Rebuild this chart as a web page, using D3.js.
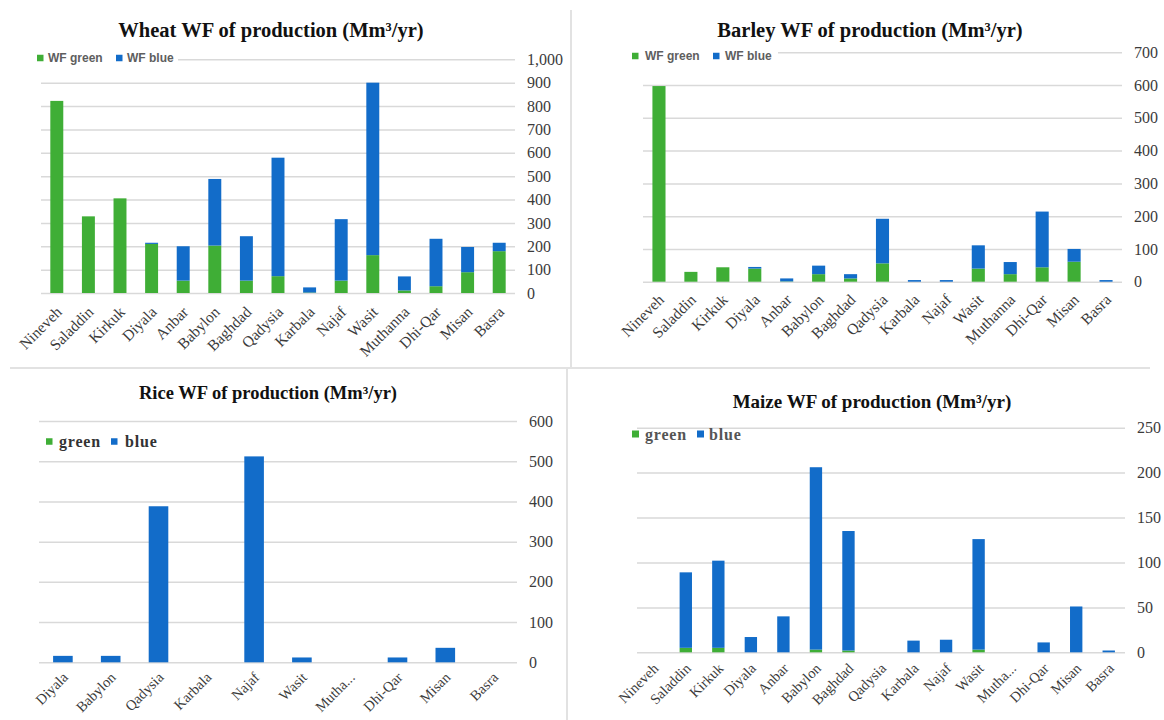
<!DOCTYPE html>
<html>
<head>
<meta charset="utf-8">
<script src="https://cdn.jsdelivr.net/npm/d3@7"></script>
<style>
  body { margin: 0; background: #fff; }
  svg { display: block; }
</style>
</head>
<body>
<svg id="chart" width="1164" height="720"></svg>
<script>
// ---- Data (Mm3/yr) ----
const provinces = ["Nineveh","Saladdin","Kirkuk","Diyala","Anbar","Babylon","Baghdad","Qadysia","Karbala","Najaf","Wasit","Muthanna","Dhi-Qar","Misan","Basra"];
const provincesShort = ["Nineveh","Saladdin","Kirkuk","Diyala","Anbar","Babylon","Baghdad","Qadysia","Karbala","Najaf","Wasit","Mutha...","Dhi-Qar","Misan","Basra"];
const riceProvinces = ["Diyala","Babylon","Qadysia","Karbala","Najaf","Wasit","Mutha...","Dhi-Qar","Misan","Basra"];

const wheatGreen = [822,328,405,210,53,203,53,72,2,53,162,11,29,89,179];
const wheatBlue  = [0,0,0,5,147,285,190,507,22,263,738,60,203,108,36];
const wheatTicks = [0,100,200,300,400,500,600,700,800,900,1000];

const barleyGreen = [597,30,44,40,1,23,10,56,0,0,40,23,44,61,0];
const barleyBlue  = [0,0,0,5,9,26,13,136,5,5,71,37,170,39,5];
const barleyTicks = [0,100,200,300,400,500,600,700];

const riceGreen = [0,0,0,0,0,0,0,0,0,0];
const riceBlue  = [16,16,388,0,512,12,0,12,36,0];
const riceTicks = [0,100,200,300,400,500,600];

const maizeGreen = [0,5,5,0,0,3,2,0,0,0,3,0,0,0,0];
const maizeBlue  = [0,84,97,17,40,203,133,0,13,14,123,0,11,51,2];
const maizeTicks = [0,50,100,150,200,250];

const GREEN = "#3fae36";
const BLUE = "#126cc9";
const GRID = "#d9d9d9";
const TEXT = "#3b3b3b";
const SERIF = "'Liberation Serif','Times New Roman',serif";
const SANS = "'Liberation Sans',Arial,sans-serif";

const svg = d3.select("#chart");

// panel frame lines
const frame = svg.append("g").attr("stroke", "#e2e2e2").attr("stroke-width", 2);
frame.append("line").attr("x1", 571).attr("x2", 571).attr("y1", 10).attr("y2", 368);
frame.append("line").attr("x1", 567).attr("x2", 567).attr("y1", 368).attr("y2", 720);
frame.append("line").attr("x1", 10).attr("x2", 1150).attr("y1", 368).attr("y2", 368);

function drawPanel(cfg) {
  const g = svg.append("g");
  const rows = cfg.categories.map((c, i) => ({ name: c, green: cfg.green[i], blue: cfg.blue[i] }));
  const x = d3.scaleBand().domain(cfg.categories).range([cfg.x0, cfg.x1])
    .paddingInner(cfg.pad).paddingOuter(cfg.pad / 2);
  const y = d3.scaleLinear().domain([0, d3.max(cfg.ticks)]).range([cfg.yBase, cfg.yTop]);

  // gridlines + right-hand tick labels
  const yAxis = d3.axisRight(y).tickValues(cfg.ticks).tickFormat(cfg.fmt)
    .tickSize(-(cfg.x1 - cfg.x0)).tickPadding(12);
  const ag = g.append("g").attr("transform", `translate(${cfg.x1},0)`).call(yAxis)
    .attr("font-family", SERIF).attr("font-size", 16);
  ag.select(".domain").remove();
  ag.selectAll(".tick line").attr("stroke", GRID).attr("stroke-width", 1.5);
  ag.selectAll(".tick text").attr("fill", TEXT);

  // stacked bars
  const series = d3.stack().keys(["green", "blue"])(rows);
  const colors = { green: GREEN, blue: BLUE };
  g.append("g").selectAll("g").data(series).join("g")
    .attr("fill", d => colors[d.key])
    .selectAll("rect").data(d => d).join("rect")
    .attr("x", d => x(d.data.name))
    .attr("width", x.bandwidth())
    .attr("y", d => y(d[1]))
    .attr("height", d => y(d[0]) - y(d[1]));

  // rotated category labels
  g.append("g").selectAll("text").data(cfg.categories).join("text")
    .attr("transform", d => `translate(${x(d) + x.bandwidth() / 2 + cfg.lab[0]},${cfg.yBase + cfg.lab[1]}) rotate(-45)`)
    .attr("text-anchor", "end")
    .attr("fill", TEXT)
    .attr("font-family", SERIF).attr("font-size", cfg.lab[2])
    .text(d => d);

  // title
  const t = g.append("text").attr("x", cfg.titleX).attr("y", cfg.titleY)
    .attr("text-anchor", "middle").attr("fill", "#111")
    .attr("font-family", SERIF).attr("font-weight", "bold")
    .attr("font-size", cfg.titleSize);
  t.append("tspan").text(cfg.title[0]);
  t.append("tspan").text(cfg.title[1]);

  // legend
  const L = cfg.legend;
  const lg = g.append("g");
  if (L.bg) lg.append("rect").attr("x", L.bg[0]).attr("y", L.y - 9).attr("width", L.bg[1] - L.bg[0])
    .attr("height", 18).attr("fill", "#fff");
  L.items.forEach((it, i) => {
    lg.append("rect").attr("x", it.sx).attr("y", L.y - L.sq / 2).attr("width", L.sq).attr("height", L.sq)
      .attr("fill", i === 0 ? GREEN : BLUE);
    lg.append("text").attr("x", it.tx).attr("y", L.y).attr("dy", "0.35em")
      .attr("fill", L.color).attr("font-family", L.font).attr("font-weight", "bold")
      .attr("font-size", L.size).attr("letter-spacing", L.spacing)
      .text(it.label);
  });
}

drawPanel({
  categories: provinces, green: wheatGreen, blue: wheatBlue, ticks: wheatTicks,
  fmt: d3.format(","), x0: 41, x1: 515, yBase: 293, yTop: 59.3, pad: 0.59, lab: [6, 20, 15.5],
  title: ["Wheat WF  of production ", "(Mm³/yr)"], titleX: 271, titleY: 37, titleSize: 20.5,
  legend: { y: 58, sq: 6.5, font: SANS, size: 12, spacing: 0, color: "#5e5e5e", bg: [33, 178],
    items: [{ sx: 37, tx: 48, label: "WF green" }, { sx: 116, tx: 127, label: "WF blue" }] }
});

drawPanel({
  categories: provinces, green: barleyGreen, blue: barleyBlue, ticks: barleyTicks,
  fmt: d3.format("d"), x0: 643, x1: 1122, yBase: 281.7, yTop: 52.3, pad: 0.59, lab: [6, 19, 15.5],
  title: ["Barley WF of production ", "(Mm³/yr)"], titleX: 870, titleY: 37, titleSize: 20.5,
  legend: { y: 56, sq: 6.5, font: SANS, size: 12, spacing: 0, color: "#5e5e5e", bg: [628, 778],
    items: [{ sx: 632, tx: 645, label: "WF green" }, { sx: 713, tx: 725, label: "WF blue" }] }
});

drawPanel({
  categories: riceProvinces, green: riceGreen, blue: riceBlue, ticks: riceTicks,
  fmt: d3.format("d"), x0: 39, x1: 517, yBase: 662.3, yTop: 421, pad: 0.59, lab: [6, 16, 14.5],
  title: ["Rice WF of production  ", "(Mm³/yr)"], titleX: 268, titleY: 399, titleSize: 18.5,
  legend: { y: 441.5, sq: 6.5, font: SERIF, size: 16, spacing: 0.8, color: "#333", bg: null,
    items: [{ sx: 46, tx: 59, label: "green" }, { sx: 111, tx: 125, label: "blue" }] }
});

drawPanel({
  categories: provincesShort, green: maizeGreen, blue: maizeBlue, ticks: maizeTicks,
  fmt: d3.format("d"), x0: 637, x1: 1125, yBase: 652.3, yTop: 427.7, pad: 0.62, lab: [6, 17, 14.5],
  title: ["Maize WF  of production  ", "(Mm³/yr)"], titleX: 872, titleY: 408, titleSize: 19,
  legend: { y: 434, sq: 7, font: SERIF, size: 16, spacing: 0.8, color: "#555", bg: null,
    items: [{ sx: 632, tx: 645, label: "green" }, { sx: 697, tx: 709, label: "blue" }] }
});
</script>
</body>
</html>
